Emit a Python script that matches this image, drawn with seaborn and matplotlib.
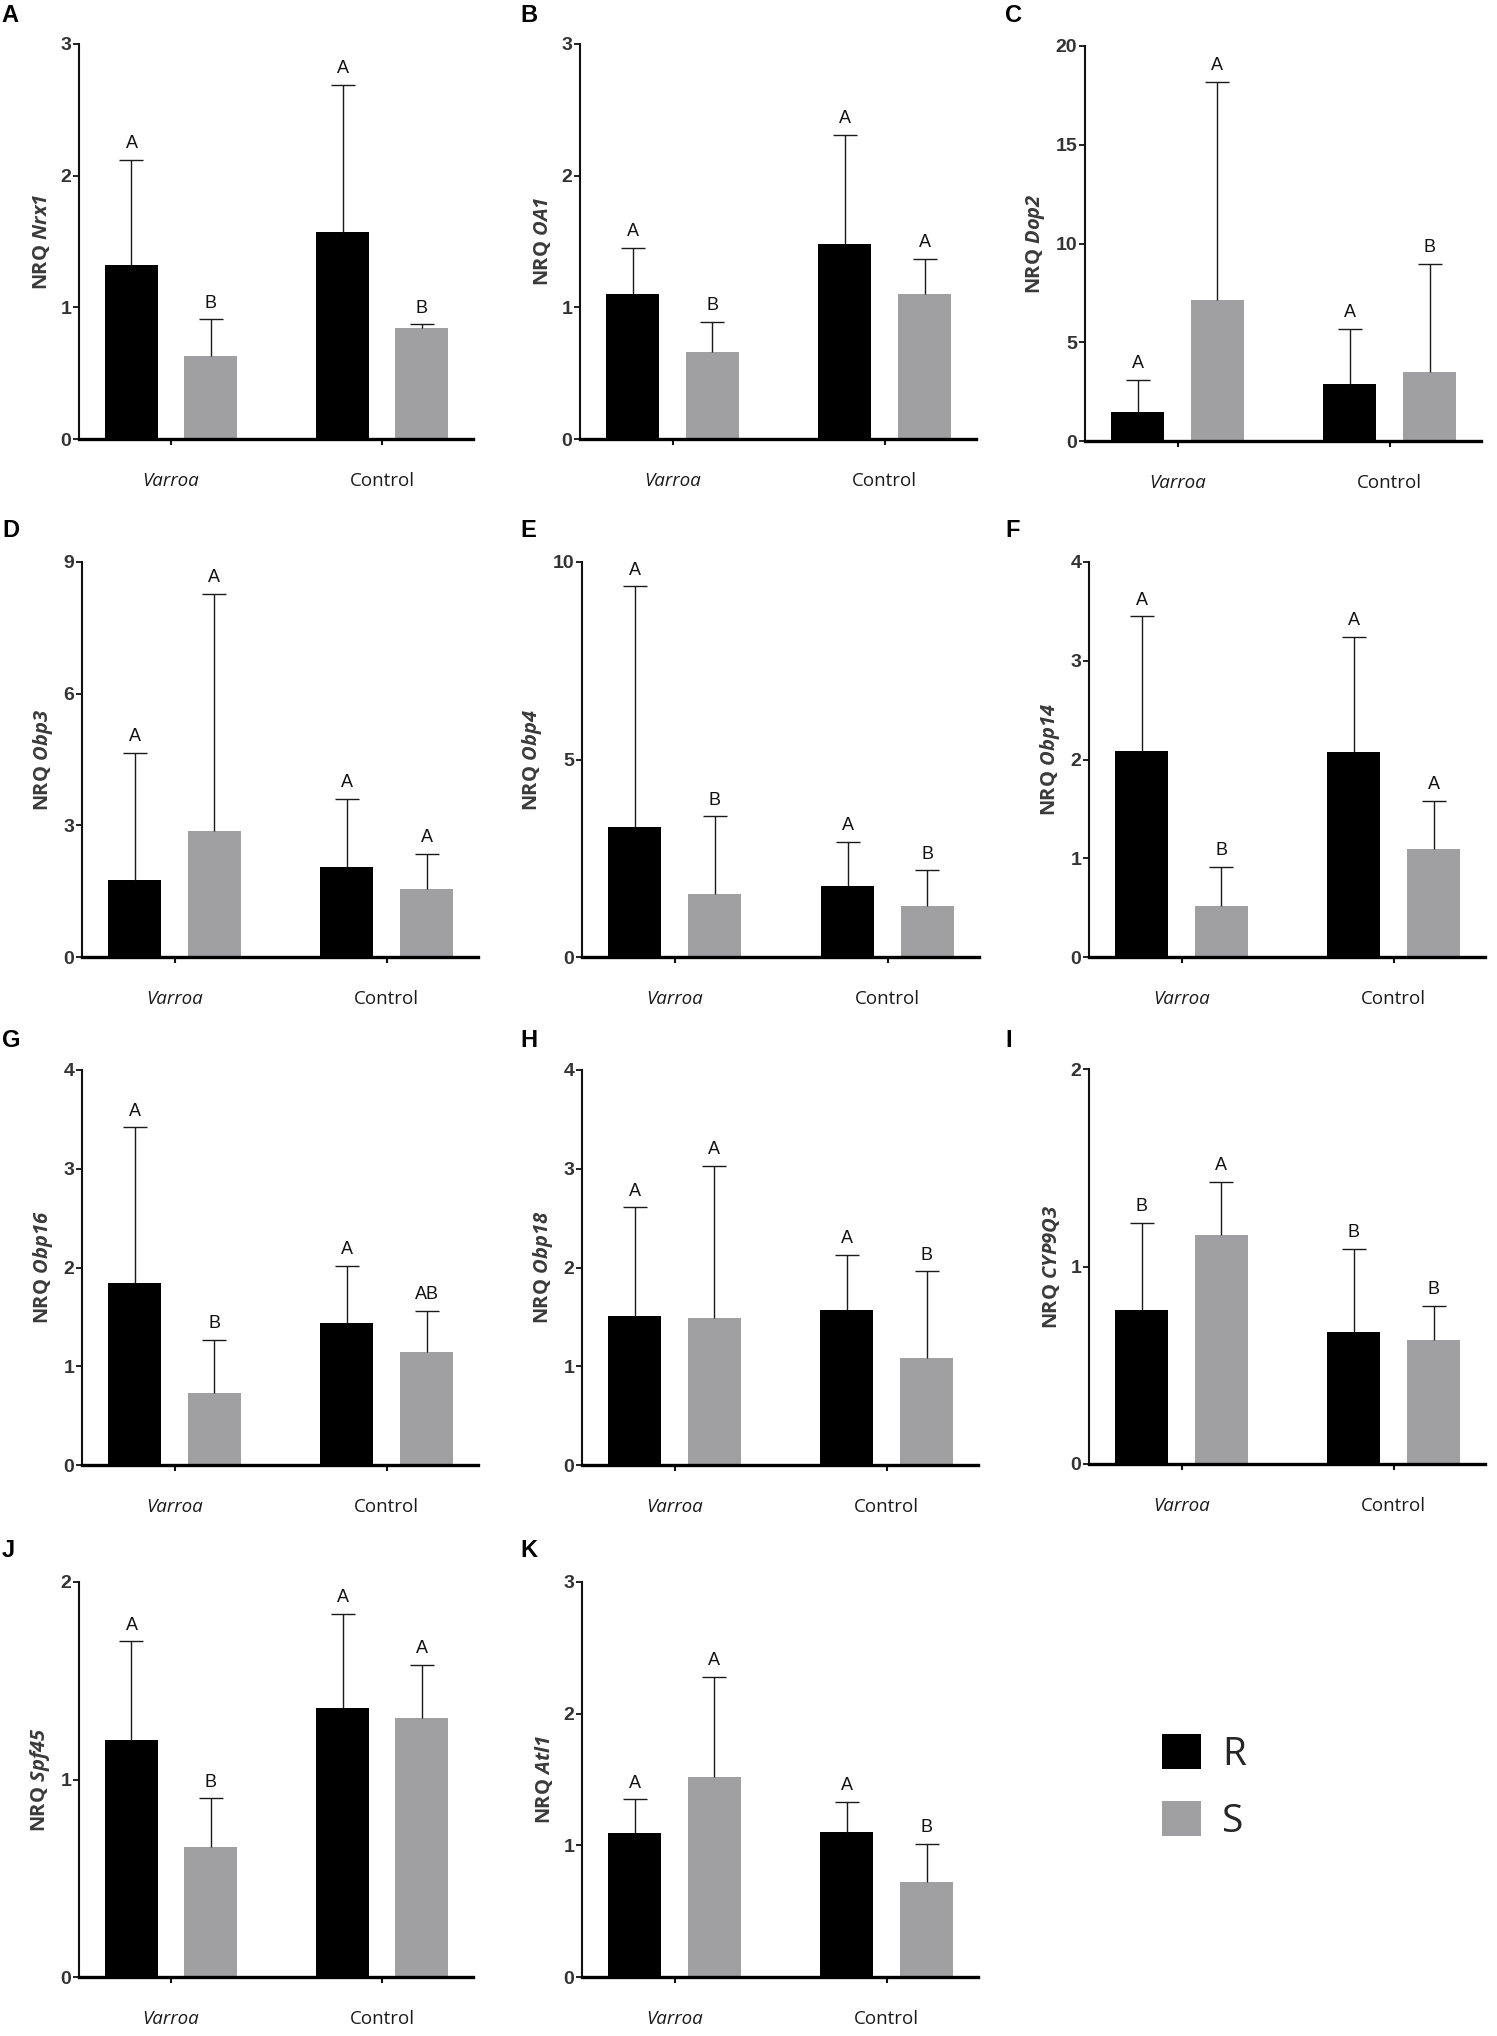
import numpy as np
import pandas as pd
import matplotlib
matplotlib.use('Agg')
import matplotlib.pyplot as plt
from matplotlib.patches import Patch
import seaborn as sns

# Bars in each panel: Varroa R, Varroa S, Control R, Control S
GROUPS = ['Varroa', 'Control']
LINES = ['R', 'S']
PANELS = ['A', 'B', 'C', 'D', 'E', 'F', 'G', 'H', 'I', 'J', 'K']
GENES = ['Nrx1', 'OA1', 'Dop2', 'Obp3', 'Obp4', 'Obp14', 'Obp16', 'Obp18',
         'CYP9Q3', 'Spf45', 'Atl1']

MEANS = [
    [1.32, 0.63, 1.57, 0.84],
    [1.10, 0.66, 1.48, 1.10],
    [1.47, 7.16, 2.90, 3.49],
    [1.75, 2.86, 2.04, 1.56],
    [3.29, 1.59, 1.81, 1.28],
    [2.09, 0.52, 2.08, 1.09],
    [1.84, 0.73, 1.44, 1.14],
    [1.51, 1.49, 1.57, 1.08],
    [0.78, 1.16, 0.67, 0.63],
    [1.20, 0.66, 1.36, 1.31],
    [1.09, 1.52, 1.10, 0.72],
]
# top of the (upper only) error bars
UPPER = [
    [2.12, 0.91, 2.69, 0.87],
    [1.45, 0.89, 2.31, 1.37],
    [3.10, 18.18, 5.69, 8.98],
    [4.65, 8.28, 3.61, 2.35],
    [9.38, 3.56, 2.92, 2.19],
    [3.45, 0.91, 3.24, 1.58],
    [3.42, 1.27, 2.02, 1.56],
    [2.61, 3.03, 2.13, 1.96],
    [1.22, 1.43, 1.09, 0.80],
    [1.70, 0.905, 1.84, 1.58],
    [1.35, 2.28, 1.33, 1.01],
]
LETTERS = [
    ['A', 'B', 'A', 'B'],
    ['A', 'B', 'A', 'A'],
    ['A', 'A', 'A', 'B'],
    ['A', 'A', 'A', 'A'],
    ['A', 'B', 'A', 'B'],
    ['A', 'B', 'A', 'A'],
    ['A', 'B', 'A', 'AB'],
    ['A', 'A', 'A', 'B'],
    ['B', 'A', 'B', 'B'],
    ['A', 'B', 'A', 'A'],
    ['A', 'A', 'A', 'B'],
]
Y_TICKS = [
    [0, 1, 2, 3],
    [0, 1, 2, 3],
    [0, 5, 10, 15, 20],
    [0, 3, 6, 9],
    [0, 5, 10],
    [0, 1, 2, 3, 4],
    [0, 1, 2, 3, 4],
    [0, 1, 2, 3, 4],
    [0, 1, 2],
    [0, 1, 2],
    [0, 1, 2, 3],
]

# Layout (pixels): axes box left, top, right, bottom and panel letter spot
W, H = 1497, 2036
AX_BOX = [(79, 44, 473, 439), (580, 44, 976, 439), (1085, 46, 1481, 441),
          (82, 562, 478, 957), (582, 562, 979, 957), (1089, 562, 1485, 957),
          (82, 1070, 478, 1465), (582, 1070, 978, 1465), (1089, 1069, 1485, 1464),
          (79, 1582, 473, 1977), (582, 1582, 978, 1977)]
LETTER_POS = [(1, 4), (520, 4), (1005, 4),
              (2, 519), (520, 519), (1005, 519),
              (2, 1029), (520, 1029), (1005, 1029),
              (2, 1539), (520, 1539)]

BLACK = '#000000'
GREY = '#a0a0a3'

sns.set_style('ticks')
plt.rcParams['font.family'] = ['Open Sans', 'DejaVu Sans']
# gene names go through mathtext; every math font is the italic bold face
plt.rcParams['mathtext.fontset'] = 'custom'
plt.rcParams['mathtext.rm'] = 'Open Sans:italic:bold'
plt.rcParams['mathtext.it'] = 'Open Sans:italic:bold'
plt.rcParams['mathtext.bf'] = 'Open Sans:italic:bold'

fig = plt.figure(figsize=(W / 100, H / 100), dpi=100)

for i in range(len(GENES)):
    l, t, r, b = AX_BOX[i]
    ax = fig.add_axes([l / W, 1 - b / H, (r - l) / W, (b - t) / H])

    df = pd.DataFrame({
        'group': [GROUPS[0], GROUPS[0], GROUPS[1], GROUPS[1]],
        'line': [LINES[0], LINES[1], LINES[0], LINES[1]],
        'nrq': MEANS[i],
        'upper': UPPER[i],
        'letter': LETTERS[i],
    })
    sns.barplot(data=df, x='group', y='nrq', hue='line', order=GROUPS,
                hue_order=LINES, palette=[BLACK, GREY], saturation=1,
                width=0.75, gap=0.333, errorbar=None, linewidth=0,
                legend=False, ax=ax)
    bar_sets = list(ax.containers)

    # one-sided error bars and significance letters
    for j, cont in enumerate(bar_sets):
        for k, bar in enumerate(cont):
            row = df[(df['line'] == LINES[j]) & (df['group'] == GROUPS[k])].iloc[0]
            x = bar.get_x() + bar.get_width() / 2
            eb = ax.errorbar(x, row['nrq'],
                             yerr=[[0], [row['upper'] - row['nrq']]],
                             fmt='none', ecolor='#1a1a1a', elinewidth=1.0,
                             capsize=8.6, capthick=1.0, zorder=3)
            eb[1][0].set_visible(False)  # no cap at the bar top
            ax.annotate(row['letter'], (x, row['upper']), xytext=(0, 5.5),
                        textcoords='offset points', ha='center', va='bottom',
                        fontsize=13, family='Liberation Sans', color='#111111')

    ax.set_xlim(-0.436, 1.43)
    ax.set_ylim(0, Y_TICKS[i][-1])
    ax.set_yticks(Y_TICKS[i], labels=[str(v) for v in Y_TICKS[i]],
                  fontweight='bold', family='Liberation Sans', fontsize=14,
                  color='#333333')
    ax.set_xticks([0, 1], labels=GROUPS, fontsize=13.5, color='#1a1a1a')
    ax.get_xticklabels()[0].set_style('italic')

    ax.set_xlabel('')
    ax.set_ylabel('NRQ $\\mathrm{' + GENES[i] + '}$', fontsize=14.5,
                  fontweight='bold', color='#3a3a3a', labelpad=6)

    sns.despine(ax=ax)
    ax.spines['left'].set_linewidth(1.5)
    ax.spines['bottom'].set_linewidth(2.4)
    ax.spines['left'].set_color('#111111')
    ax.spines['bottom'].set_color('#000000')
    ax.tick_params(axis='x', length=4, width=1.5, pad=20, color='#111111')
    ax.tick_params(axis='y', length=4, width=1.3, pad=1.5, color='#111111')

    lx, ly = LETTER_POS[i]
    fig.text(lx / W, 1 - ly / H, PANELS[i], ha='left', va='top', fontsize=17,
             fontweight='bold', family='Liberation Sans', color='#000000')

handles = [Patch(facecolor=BLACK, edgecolor='none'),
           Patch(facecolor=GREY, edgecolor='none')]
fig.legend(handles=handles, labels=LINES, loc='upper left',
           bbox_to_anchor=(1162 / W, 1 - 1734 / H), frameon=False,
           fontsize=28, handlelength=1.0, handleheight=1.0,
           handletextpad=0.55, labelspacing=0.7, borderpad=0,
           borderaxespad=0)

fig.savefig('out.png', dpi=100, facecolor='white')
